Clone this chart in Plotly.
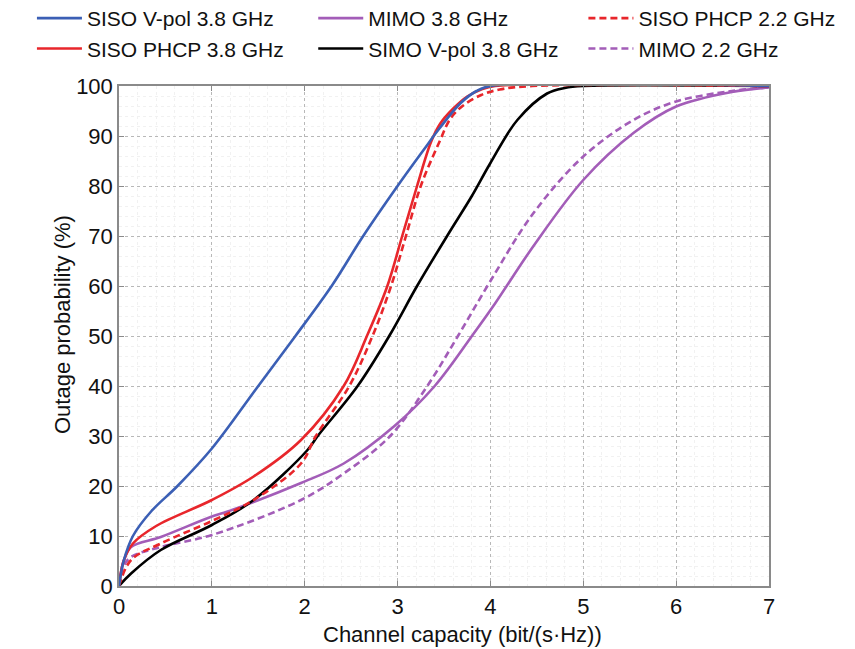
import plotly.graph_objects as go

# ---- data ----
siso_vpol_38_x = [0, 0.05, 0.15, 0.35, 0.63, 1.0, 1.48, 1.9, 2.29, 2.63, 3.0, 3.28, 3.45, 3.68, 3.85, 4.0, 7]
siso_vpol_38_y = [0, 5, 10, 15, 20, 27.5, 39.5, 50, 60, 70, 80, 87.2, 91.5, 96.6, 99, 100, 100]

siso_phcp_38_x = [0, 0.05, 0.15, 0.4, 1.0, 1.45, 1.96, 2.42, 2.67, 2.89, 3.05, 3.21, 3.36, 3.46, 3.6, 3.75, 3.9, 4.05, 7]
siso_phcp_38_y = [0, 5, 8.5, 12, 17.2, 21.9, 29.2, 40, 50, 60, 70, 80, 88.8, 92.5, 95.5, 97.9, 99.3, 100, 100]

siso_phcp_22_x = [0, 0.13, 0.45, 1.0, 1.45, 1.96, 2.12, 2.48, 2.73, 2.93, 3.09, 3.25, 3.45, 3.57, 3.7, 3.9, 4.1, 4.45, 7]
siso_phcp_22_y = [0, 5.2, 8.5, 13, 17.2, 24.5, 30, 40, 50, 60, 70, 80, 88.8, 93.5, 96, 98.2, 99.3, 100, 100]

simo_vpol_38_x = [0, 0.13, 0.45, 1.0, 1.45, 2.03, 2.14, 2.57, 2.91, 3.21, 3.55, 3.8, 4.0, 4.29, 4.61, 4.8, 5.0, 7]
simo_vpol_38_y = [0, 2.5, 7.2, 12.2, 17.2, 27.2, 30, 40, 50, 60, 70.5, 78, 84.6, 93.2, 98.5, 99.6, 100, 100]

mimo_38_x = [0, 0.05, 0.13, 0.45, 1.0, 1.17, 1.96, 2.42, 2.96, 3.4, 3.82, 4.05, 4.46, 5.0, 5.54, 6.0, 6.6, 7]
mimo_38_y = [0, 5, 7.8, 9.8, 13.9, 14.9, 20.6, 24.5, 31.9, 40, 50.5, 56.5, 67.9, 81.2, 90.6, 95.9, 98.8, 99.7]

mimo_22_x = [0, 0.05, 0.13, 0.45, 1.0, 1.96, 2.42, 2.92, 3.32, 3.65, 4.0, 4.46, 5.0, 5.54, 6.0, 6.6, 7]
mimo_22_y = [0, 4, 5.8, 7.8, 10.2, 17.2, 22.5, 30, 40, 50, 61, 74.5, 85.9, 93.2, 96.9, 99, 99.7]

x_ticks = [0, 1, 2, 3, 4, 5, 6, 7]
y_ticks = [0, 10, 20, 30, 40, 50, 60, 70, 80, 90, 100]

BLUE = "#3b5fb5"
RED = "#e8262b"
BLACK = "#000000"
PURPLE = "#a35db8"
W = 2.6
DASH = "7px,4px"

fig = go.Figure()

def add(x, y, name, color, dash, legend):
    fig.add_trace(go.Scatter(x=x, y=y, name=name, mode="lines", line_shape="spline",
                             line=dict(color=color, width=W, dash=dash), legend=legend))

# draw order: purple first (background), then others
add(mimo_22_x, mimo_22_y, "MIMO 2.2 GHz", PURPLE, DASH, "legend3")
add(mimo_38_x, mimo_38_y, "MIMO 3.8 GHz", PURPLE, "solid", "legend2")
add(simo_vpol_38_x, simo_vpol_38_y, "SIMO V-pol 3.8 GHz", BLACK, "solid", "legend2")
add(siso_phcp_22_x, siso_phcp_22_y, "SISO PHCP 2.2 GHz", RED, DASH, "legend3")
add(siso_phcp_38_x, siso_phcp_38_y, "SISO PHCP 3.8 GHz", RED, "solid", "legend")
add(siso_vpol_38_x, siso_vpol_38_y, "SISO V-pol 3.8 GHz", BLUE, "solid", "legend")

FONT = "Liberation Sans, Arial, sans-serif"
leg_common = dict(orientation="v", yref="paper", xref="container", y=1.176, yanchor="top",
                  xanchor="left", bgcolor="rgba(0,0,0,0)", font=dict(size=21, color="#111", family=FONT),
                  tracegroupgap=0, itemwidth=45)

fig.update_layout(
    width=855, height=649,
    margin=dict(l=111, r=94, t=78, b=71, autoexpand=False),
    plot_bgcolor="white", paper_bgcolor="white",
    font=dict(family=FONT, color="#111"),
    legend=dict(**leg_common, x=0.028, traceorder="reversed"),
    legend2=dict(**leg_common, x=0.357, traceorder="normal"),
    legend3=dict(**leg_common, x=0.673, traceorder="reversed"),
    xaxis=dict(range=[0, 7], tickvals=x_ticks, ticktext=[str(v) for v in x_ticks],
               showline=True, linecolor="#8a8a8a", linewidth=1.5, mirror="ticks",
               ticks="inside", ticklen=5, tickcolor="#8a8a8a",
               showgrid=True, gridcolor="#b8b8b8", griddash="dot", gridwidth=1,
               minor=dict(dtick=0.2, showgrid=True, gridcolor="#f1f1f1", gridwidth=1),
               zeroline=False, tickfont=dict(size=22)),
    yaxis=dict(range=[0, 100], tickvals=y_ticks, ticktext=[str(v) for v in y_ticks],
               showline=True, linecolor="#8a8a8a", linewidth=1.5, mirror="ticks",
               ticks="inside", ticklen=5, tickcolor="#8a8a8a",
               showgrid=True, gridcolor="#b8b8b8", griddash="dot", gridwidth=1,
               minor=dict(dtick=2, showgrid=True, gridcolor="#f1f1f1", gridwidth=1),
               zeroline=False, tickfont=dict(size=22)),
    annotations=[
        dict(text="Channel capacity (bit/(s·Hz))", xref="paper", yref="paper", x=0.5, y=0,
             xshift=18, yshift=-48, xanchor="center", yanchor="middle", showarrow=False,
             font=dict(size=22, family=FONT, color="#111")),
        dict(text="Outage probability (%)", xref="paper", yref="paper", x=0, y=0.5,
             xshift=-57, yshift=11, xanchor="center", yanchor="middle", showarrow=False,
             textangle=-90, font=dict(size=22, family=FONT, color="#111")),
    ],
)

fig.write_html("out.html")
